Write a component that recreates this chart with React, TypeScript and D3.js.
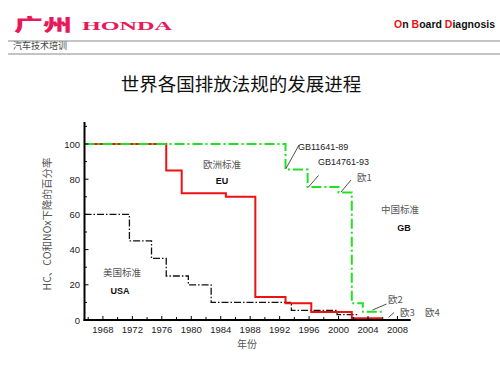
import React from "react";
import * as d3 from "d3";

const euYears = [1965.5, 1976.6, 1978.7, 1984.7, 1988.7, 1992.8, 1996.3, 2001.8, 2005.9];
const euValues = [100, 85, 72, 70, 13, 9.5, 4.5, 1, 1];
const gbYears = [1965.5, 1992.8, 1995.8, 2000.0, 2001.8, 2003.3, 2005.9];
const gbValues = [100, 85.5, 75.5, 72.5, 9.5, 4.7, 4.7];
const usaYears = [1965.5, 1971.6, 1974.6, 1976.6, 1979.6, 1982.7, 1993.6, 1999.8, 2002.6];
const usaValues = [60, 45, 35, 25, 20, 10, 5.5, 3, 3];
const xTickLabels = [1968, 1972, 1976, 1980, 1984, 1988, 1992, 1996, 2000, 2004, 2008];
const yTickLabels = [0, 20, 40, 60, 80, 100];

const W = 500, H = 375;
const x = d3.scaleLinear().domain([1965.5, 2009.8]).range([84.5, 410.7]);
const y = d3.scaleLinear().domain([0, 100]).range([320, 144]);

const CJK = "'Noto Sans CJK SC', sans-serif";
const LAT = "'Liberation Sans', Arial, sans-serif";

function stepPath(xs: number[], vs: number[]) {
  const pts = xs.map((d, i) => [d, vs[i]] as [number, number]);
  return d3.line<[number, number]>().x(d => x(d[0])).y(d => y(d[1])).curve(d3.curveStepAfter)(pts) || "";
}

export default function App() {
  const minorX = d3.range(1966, 2010, 2);
  const minorY = d3.range(0, 111, 10);
  return (
    <svg width={W} height={H} style={{ position: "absolute", left: 0, top: 0, background: "#fff" }}>
      {/* header */}
      <text x={14} y={31} fontFamily={CJK} fontWeight={900} fontSize={17} fill="#e8185a" textLength={58} lengthAdjust="spacingAndGlyphs">广州</text>
      <text x={82} y={30} fontFamily="'Liberation Serif', serif" fontWeight={700} fontSize={13.5} fill="#e8185a" textLength={90} lengthAdjust="spacingAndGlyphs">HONDA</text>
      <text x={495} y={28} textAnchor="end" fontFamily={LAT} fontWeight={700} fontSize={10.5} fill="#111">
        <tspan fill="#ee1111">O</tspan>n <tspan fill="#ee1111">B</tspan>oard <tspan fill="#ee1111">D</tspan>iagnosis
      </text>
      <line x1={8} x2={500} y1={41} y2={41} stroke="#888" strokeWidth={1} />
      <text x={13} y={49} fontFamily={CJK} fontSize={9} fill="#444">汽车技术培训</text>
      <line x1={8} x2={500} y1={54} y2={54} stroke="#888" strokeWidth={1} />

      {/* title */}
      <text x={241} y={91} textAnchor="middle" fontFamily={CJK} fontSize={18.5} fill="#111">世界各国排放法规的发展进程</text>

      {/* series */}
      <path d={stepPath(usaYears, usaValues)} fill="none" stroke="#111" strokeWidth={1.3} strokeDasharray="7 2 1.5 2" />
      <path d={stepPath(euYears, euValues)} fill="none" stroke="#ee1111" strokeWidth={2} />
      <path d={stepPath(gbYears, gbValues)} fill="none" stroke="#22e022" strokeWidth={2} strokeDasharray="10 3 2 3" />

      {/* axes */}
      <line x1={x.range()[0]} x2={x.range()[0]} y1={122} y2={321} stroke="#000" strokeWidth={2} />
      <line x1={x.range()[0] - 1} x2={x.range()[1]} y1={320} y2={320} stroke="#000" strokeWidth={2} />
      {minorY.map(v => (
        <line key={"yt" + v} x1={x.range()[0]} x2={x.range()[0] + (v % 20 === 0 ? 4 : 2.5)} y1={y(v)} y2={y(v)} stroke="#000" strokeWidth={1} />
      ))}
      {minorX.map(v => (
        <line key={"xt" + v} x1={x(v)} x2={x(v)} y1={320} y2={320 - (v % 4 === 0 ? 4 : 3)} stroke="#000" strokeWidth={1} />
      ))}
      {yTickLabels.map(v => (
        <text key={"yl" + v} x={80} y={y(v) + 3.5} textAnchor="end" fontFamily={LAT} fontSize={9.5} fill="#222">{v}</text>
      ))}
      {xTickLabels.map(v => (
        <text key={"xl" + v} x={x(v)} y={333} textAnchor="middle" fontFamily={LAT} fontSize={9.5} fill="#222">{v}</text>
      ))}
      <text x={247} y={348} textAnchor="middle" fontFamily={CJK} fontSize={10} fill="#555">年份</text>
      <text transform="translate(51,224) rotate(-90)" textAnchor="middle" fontFamily={CJK} fontSize={10.5} fill="#555">HC、CO和NOx下降的百分率</text>

      {/* region labels */}
      <text x={222} y={168} textAnchor="middle" fontFamily={CJK} fontSize={9.5} fill="#555">欧洲标准</text>
      <text x={222} y={184} textAnchor="middle" fontFamily={LAT} fontWeight={700} fontSize={9} fill="#111">EU</text>
      <text x={122} y={275.5} textAnchor="middle" fontFamily={CJK} fontSize={9.5} fill="#555">美国标准</text>
      <text x={120} y={294} textAnchor="middle" fontFamily={LAT} fontWeight={700} fontSize={9} fill="#111">USA</text>
      <text x={400} y={213} textAnchor="middle" fontFamily={CJK} fontSize={9.5} fill="#555">中国标准</text>
      <text x={404} y={230.5} textAnchor="middle" fontFamily={LAT} fontWeight={700} fontSize={9} fill="#111">GB</text>

      {/* annotations */}
      <line x1={286} y1={168.5} x2={299} y2={145} stroke="#222" strokeWidth={0.8} />
      <text x={298} y={149.5} fontFamily={LAT} fontSize={9} fill="#222">GB11641-89</text>
      <line x1={308.5} y1={187} x2={318.5} y2={175.5} stroke="#222" strokeWidth={0.8} />
      <text x={318} y={165} fontFamily={LAT} fontSize={9} fill="#222">GB14761-93</text>
      <line x1={341} y1={192} x2={351} y2={180} stroke="#222" strokeWidth={0.8} />
      <text x={357} y={181} fontFamily={CJK} fontSize={9.5} fill="#555">欧1</text>
      <line x1={372.5} y1={310} x2={386.5} y2={304} stroke="#222" strokeWidth={0.8} />
      <text x={388} y={303} fontFamily={CJK} fontSize={9.5} fill="#555">欧2</text>
      <line x1={388.5} y1={317.5} x2={394} y2={312.5} stroke="#222" strokeWidth={0.8} />
      <text x={400} y={315.5} fontFamily={CJK} fontSize={9.5} fill="#555">欧3</text>
      <text x={425} y={315.5} fontFamily={CJK} fontSize={9.5} fill="#555">欧4</text>
    </svg>
  );
}
